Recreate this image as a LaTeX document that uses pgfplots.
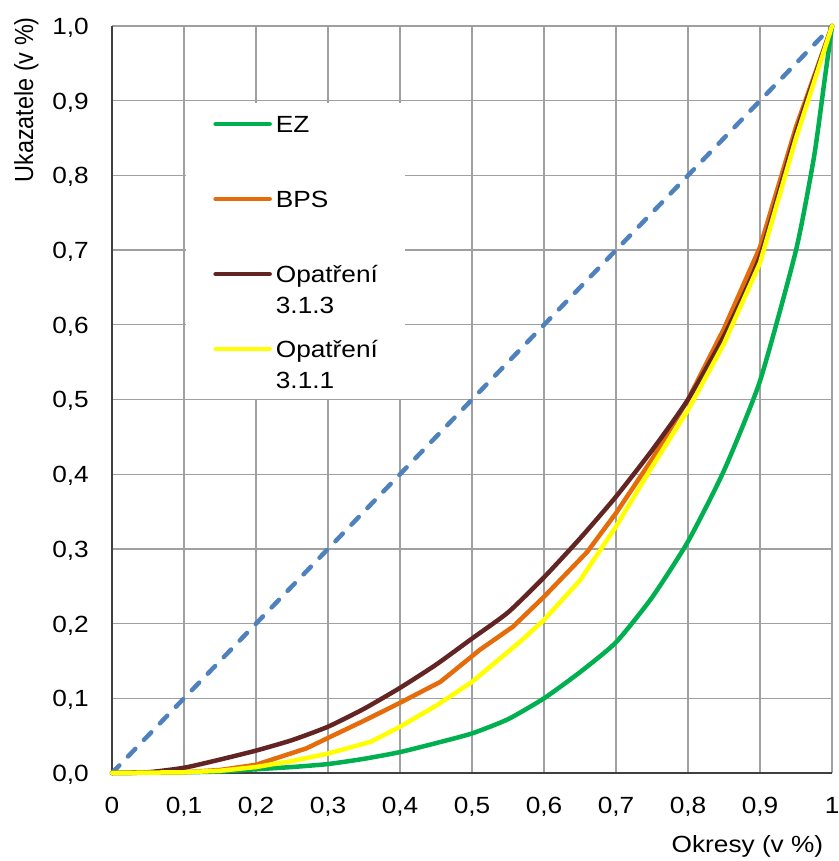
\documentclass[border=0pt]{standalone}
\usepackage{pgfplots}
\pgfplotsset{compat=1.18}
\usepackage{graphicx}
\usepackage{fontspec}
\setmainfont[FakeStretch=1.12]{Liberation Sans}
\newfontfamily\rotfont{Liberation Sans}
\definecolor{cEZ}{HTML}{00B050}
\definecolor{cBPS}{HTML}{E46C0A}
\definecolor{cOA}{HTML}{632523}
\definecolor{cOB}{HTML}{FFFF00}
\definecolor{cDiag}{HTML}{4F81BD}
\definecolor{gridc}{HTML}{A0A0A0}
\definecolor{axc}{HTML}{404040}
\newcommand{\twolines}[2]{\vtop{\hbox{#1}\hbox{#2}}}
\begin{document}
\begin{tikzpicture}
\begin{axis}[
  scale only axis, width=720bp, height=747bp,
  xmin=0, xmax=1, ymin=0, ymax=1,
  clip=false,
  xtick={0,0.1,0.2,0.3,0.4,0.5,0.6,0.7,0.8,0.9,1},
  ytick={0,0.1,0.2,0.3,0.4,0.5,0.6,0.7,0.8,0.9,1},
  grid=major,
  grid style={color=gridc, line width=1.3bp},
  axis x line*=bottom, axis y line*=left,
  axis line style={color=axc, line width=2bp},
  major tick length=0pt,
  /pgf/number format/assume math mode=true,
  tick label style={font=\fontsize{23.5}{28}\selectfont, inner sep=0pt},
  yticklabel style={anchor=base east, xshift=-23bp, yshift=-8.4bp,
    /pgf/number format/fixed, /pgf/number format/fixed zerofill,
    /pgf/number format/precision=1, /pgf/number format/use comma},
  xticklabel style={anchor=base, yshift=-40.8bp,
    /pgf/number format/fixed, /pgf/number format/precision=1,
    /pgf/number format/use comma},
  xlabel={Okresy (v \%)},
  ylabel={\scalebox{1}[1.12]{Ukazatele (v \%)}},
  xlabel style={at={(axis description cs:0.988,-0.107)}, anchor=base east,
    font=\fontsize{23.5}{28}\selectfont, inner sep=0pt},
  ylabel style={at={(axis description cs:-0.1097,1.012)}, anchor=base east,
    font=\rotfont\fontsize{23.5}{28}\selectfont, inner sep=0pt},
  legend cell align=left,
  legend style={at={(axis cs:0.103,0.897)}, anchor=north west,
    draw=none, fill=white, inner xsep=27bp, inner ysep=11bp,
    row sep=51bp, column sep=4bp,
    font=\fontsize{23.5}{31}\selectfont,
    nodes={inner sep=0pt, text height=18bp, text depth=6bp, anchor=base west}},
  legend image code/.code={\draw[#1] (0bp,8bp) -- (54bp,8bp);},
  every axis plot/.append style={line width=4.5bp, line join=round, line cap=round},
]
\addplot[color=cDiag, dash pattern=on 10.5bp off 12.5bp, forget plot] coordinates {(0,0) (1,1)};

\addplot[color=cEZ, smooth, tension=0.35] coordinates {
(0,0) (0.1,0.001) (0.15,0.002) (0.2,0.005) (0.25,0.008) (0.3,0.012) (0.35,0.019)
(0.4,0.028) (0.45,0.04) (0.5,0.053) (0.55,0.072) (0.6,0.1) (0.65,0.135) (0.7,0.175)
(0.75,0.235) (0.8,0.31) (0.85,0.405) (0.9,0.525) (0.95,0.70) (0.975,0.825) (0.99,0.93) (1,1)};
\addlegendentry{EZ}

\addplot[color=cBPS] coordinates {
(0,0) (0.1,0.001) (0.15,0.004) (0.2,0.011) (0.27,0.033) (0.3,0.047) (0.35,0.07)
(0.4,0.094) (0.456,0.122) (0.511,0.165) (0.557,0.196) (0.6,0.236) (0.66,0.296)
(0.7,0.348) (0.75,0.42) (0.8,0.50) (0.85,0.595) (0.9,0.704) (0.95,0.865) (1,1)};
\addlegendentry{BPS}

\addplot[color=cOA, smooth, tension=0.35] coordinates {
(0,0) (0.05,0.001) (0.1,0.007) (0.15,0.018) (0.2,0.03) (0.25,0.044) (0.3,0.062)
(0.35,0.086) (0.4,0.114) (0.45,0.145) (0.5,0.18) (0.55,0.215) (0.6,0.262)
(0.65,0.314) (0.7,0.37) (0.75,0.432) (0.8,0.50) (0.85,0.585) (0.9,0.692) (0.95,0.857) (1,1)};
\addlegendentry{\twolines{Opatření}{3.1.3}}

\addplot[color=cOB] coordinates {
(0,0) (0.1,0.001) (0.15,0.003) (0.2,0.008) (0.25,0.016) (0.3,0.026) (0.36,0.042)
(0.4,0.062) (0.45,0.09) (0.5,0.122) (0.567,0.176) (0.6,0.205) (0.65,0.258)
(0.7,0.33) (0.75,0.41) (0.8,0.486) (0.85,0.575) (0.9,0.683) (0.95,0.85) (1,1)};
\addlegendentry[text depth=31bp]{\twolines{Opatření}{3.1.1}}

\coordinate (bbsw) at (rel axis cs:-0.1556,-0.1178);
\coordinate (bbne) at (rel axis cs:1.00833,1.0348);
\end{axis}
\pgfresetboundingbox
\path[use as bounding box] (bbsw) rectangle (bbne);
\end{tikzpicture}
\end{document}
